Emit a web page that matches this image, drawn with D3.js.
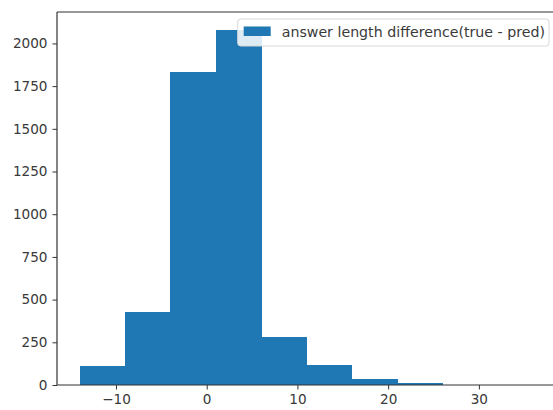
<!DOCTYPE html>
<html>
<head>
<meta charset="utf-8">
<script src="https://cdn.jsdelivr.net/npm/d3@7"></script>
<style>
  html, body { margin: 0; padding: 0; background: #fff; overflow: hidden; }
  svg { display: block; }
  text { font-family: "DejaVu Sans", sans-serif; }
</style>
</head>
<body>
<svg id="chart" width="553" height="410"></svg>
<script>
// Histogram bins (left edges) and counts
const binStarts = [-14, -9, -4, 1, 6, 11, 16, 21, 26, 31];
const binWidth = 5;
const counts = [113, 425, 1832, 2079, 279, 117, 35, 10, 2, 1];
const xTicks = [-10, 0, 10, 20, 30];
const yTicks = [0, 250, 500, 750, 1000, 1250, 1500, 1750, 2000];
const seriesLabel = "answer length difference(true - pred)";

const svg = d3.select("#chart");
const mLeft = 57, mRight = 556, mTop = 12, mBottom = 385;
const x = d3.scaleLinear().domain([-16.5, 38.5]).range([mLeft, mRight]);
const y = d3.scaleLinear().domain([0, 2184]).range([mBottom, mTop]);

const color = "#1f77b4";
const axisColor = "#333";
const textColor = "#3a3a3a";
const fs = "13.6px";

// bars
svg.append("g").attr("shape-rendering", "crispEdges")
  .selectAll("rect").data(binStarts).join("rect")
  .attr("x", (d) => x(d))
  .attr("width", (d) => x(d + binWidth) - x(d) + 0.5)
  .attr("y", (d, i) => y(counts[i]))
  .attr("height", (d, i) => y(0) - y(counts[i]))
  .attr("fill", color);

// axes
const xAxis = d3.axisBottom(x).tickValues(xTicks).tickSize(4.5).tickPadding(5)
  .tickFormat(d => d < 0 ? "\u2212" + Math.abs(d) : String(d));
const gx = svg.append("g").attr("transform", `translate(0,${mBottom})`).call(xAxis);
const yAxis = d3.axisLeft(y).tickValues(yTicks).tickSize(4.5).tickPadding(5)
  .tickFormat(d3.format("d"));
const gy = svg.append("g").attr("transform", `translate(${mLeft},0)`).call(yAxis);
[gx, gy].forEach(g => {
  g.select(".domain").remove();
  g.selectAll(".tick line").attr("stroke", axisColor).attr("stroke-width", 1);
  g.selectAll(".tick text").attr("fill", textColor).style("font-size", fs)
    .style("font-family", "DejaVu Sans, sans-serif");
});

// spines
const sp = svg.append("g").attr("stroke", axisColor).attr("stroke-width", 1.2).attr("fill", "none");
sp.append("line").attr("x1", mLeft).attr("x2", mRight).attr("y1", mTop).attr("y2", mTop);
sp.append("line").attr("x1", mLeft).attr("x2", mRight).attr("y1", mBottom).attr("y2", mBottom);
sp.append("line").attr("x1", mLeft).attr("x2", mLeft).attr("y1", mTop).attr("y2", mBottom);
sp.append("line").attr("x1", mRight).attr("x2", mRight).attr("y1", mTop).attr("y2", mBottom);

// legend
const lg = svg.append("g");
const lgRight = mRight - 7, lgTop = 19;
const txt = lg.append("text").text(seriesLabel)
  .attr("fill", textColor).style("font-size", "14.2px");
const tw = txt.node().getComputedTextLength();
const boxW = tw + 48, boxH = 27;
const bx = lgRight - boxW;
lg.insert("rect", "text").attr("x", bx).attr("y", lgTop).attr("width", boxW).attr("height", boxH)
  .attr("rx", 3).attr("fill", "rgba(255,255,255,0.85)").attr("stroke", "#d8d8d8").attr("stroke-width", 1);
lg.insert("rect", "text").attr("x", bx + 6).attr("y", lgTop + 7.5).attr("width", 27).attr("height", 9.5)
  .attr("fill", color);
txt.attr("x", bx + 44).attr("y", lgTop + 18);
</script>
</body>
</html>
